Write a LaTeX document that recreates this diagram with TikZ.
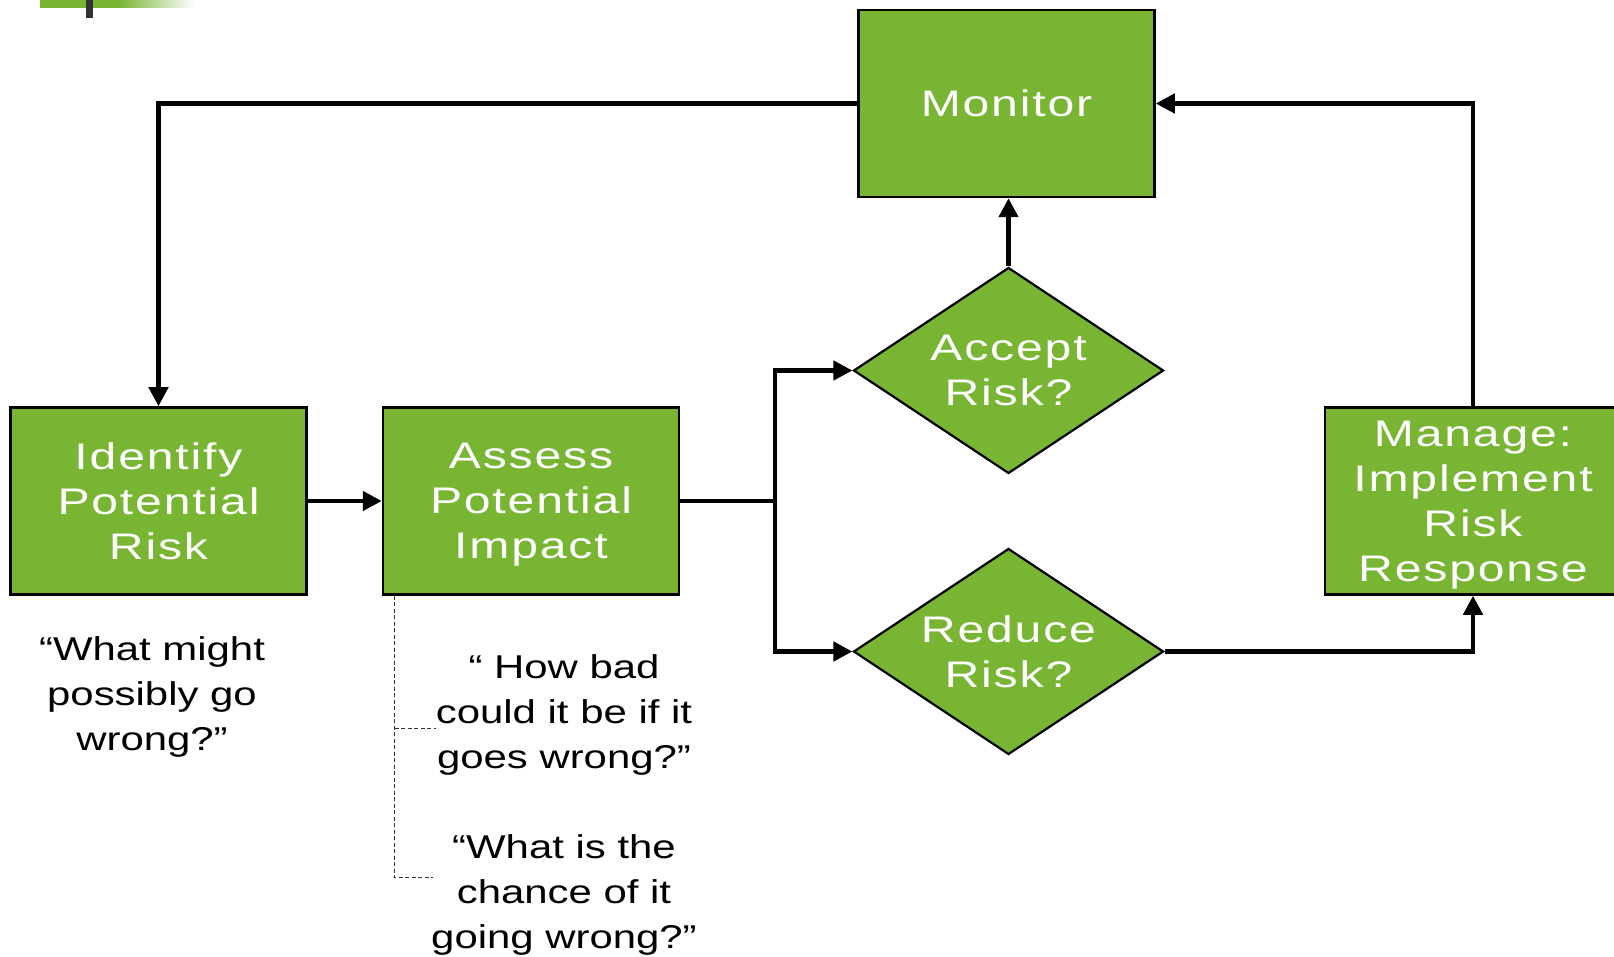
\documentclass[tikz,border=0pt]{standalone}
\usepackage{fontspec}
\usetikzlibrary{shapes.geometric,arrows.meta}
\newfontfamily\boxfont[FakeStretch=1.3,LetterSpace=5]{Liberation Sans}
\newfontfamily\qfont[FakeStretch=1.27]{Liberation Sans}
\definecolor{riskgreen}{RGB}{120,181,51}
\begin{document}
\begin{tikzpicture}[x=1pt,y=-1pt,
  box/.style={draw=black, line width=2.5pt, fill=riskgreen, minimum width=296pt, minimum height=187pt, inner sep=0pt},
  dia/.style={draw=black, line width=2.2pt, fill=riskgreen, shape=diamond, minimum width=310pt, minimum height=206pt, inner sep=0pt},
  btxt/.style={text=white, font=\boxfont\fontsize{37}{45}\selectfont, align=center, text depth=0pt},
  qtxt/.style={text=black, font=\qfont\fontsize{33}{45}\selectfont, align=center, text depth=0pt},
  conn/.style={line width=4.5pt, -{Triangle[length=19pt,width=19pt]}},
  plain/.style={line width=4.5pt},
  bracket/.style={draw=black!80, line width=1pt, dash pattern=on 4pt off 2.5pt}
]
\useasboundingbox (0,0) rectangle (1614,957);
% top-left decoration
\fill[riskgreen] (40,0) rectangle (118,8);
\shade[left color=riskgreen, right color=white] (118,0) rectangle (195,8);
\fill[black!80] (86,0) rectangle (93,18);

% boxes
\node[box,btxt] (monitor) at (1006.5,103.5) {Monitor};
\node[box,btxt] (identify) at (158.5,501) {Identify\\Potential\\Risk};
\node[box,btxt] (assess) at (531,501) {Assess\\Potential\\Impact};
\node[box,btxt] (manage) at (1473,501) {Manage:\\Implement\\Risk\\Response};
\node[dia] (accept) at (1008.5,370.5) {};
\node[btxt] (acceptT) at (accept.center) {Accept\\Risk?};
\node[dia] (reduce) at (1008.5,651.5) {};
\node[btxt] (reduceT) at (reduce.center) {Reduce\\Risk?};

% question texts
\node[qtxt] (q1) at (152,694) {“What might\\possibly go\\wrong?”};
\node[qtxt] (q2) at (564,712) {“ How bad\\could it be if it\\goes wrong?”};
\node[qtxt] (q3) at (564,892) {“What is the\\chance of it\\going wrong?”};

% connectors
\draw[conn] (monitor.west) -| (identify.north);
\draw[conn] (manage.north) |- (monitor.east);
\draw[conn] (identify.east) -- (assess.west);
\coordinate (split) at (775,501);
\draw[plain] (assess.east) -- (split);
\draw[conn] (split) |- (accept.west);
\draw[conn] (split) |- (reduce.west);
\draw[conn] (accept.north) -- (accept.north |- monitor.south);
\draw[conn] (reduce.east) -| (manage.south);

% dashed bracket
\coordinate (br) at ([xshift=13pt]assess.south west);
\draw[bracket] (br) -- ++(0,282) -- ++(38,0);
\draw[bracket] (br) ++(0,133) -- ++(41,0);
\end{tikzpicture}
\end{document}
